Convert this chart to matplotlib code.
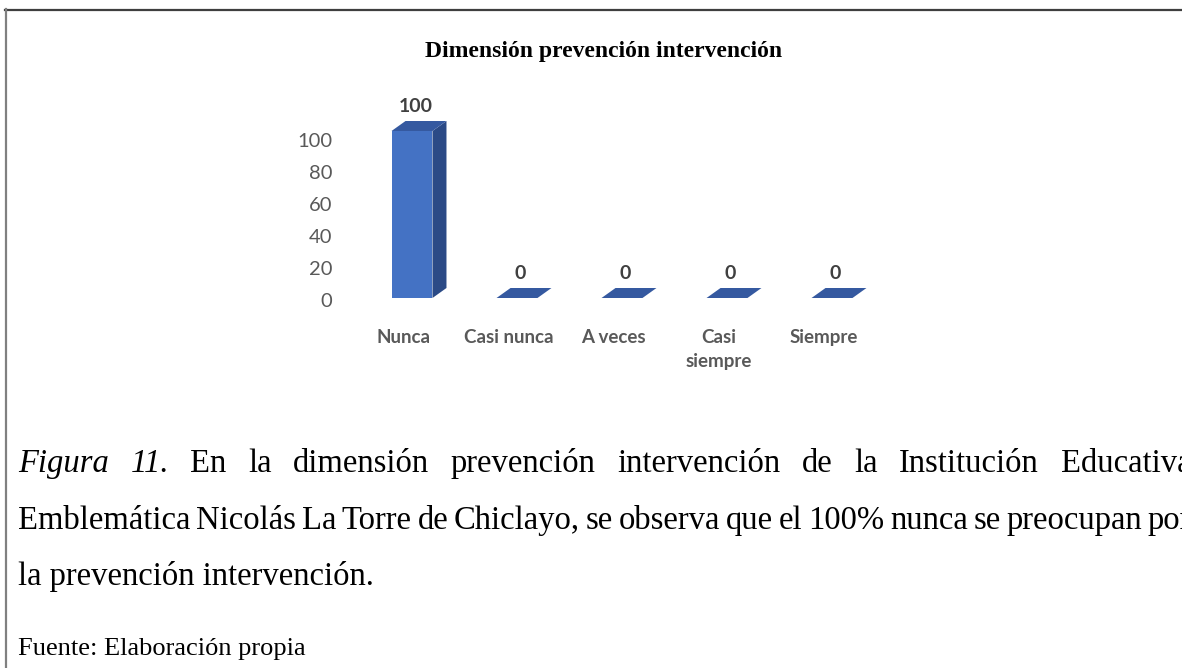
import numpy as np
import matplotlib.pyplot as plt
from matplotlib.patches import Polygon
from matplotlib.lines import Line2D

# chart data
categories = ['Nunca', 'Casi nunca', 'A veces', 'Casi\nsiempre', 'Siempre']
values = [100, 0, 0, 0, 0]
y_ticks = [0, 20, 40, 60, 80, 100]

title = 'Dimensión prevención intervención'
caption_1 = [('Figura', 'italic'), ('11.', 'italic'), ('En', 'normal'), ('la', 'normal'),
             ('dimensión', 'normal'), ('prevención', 'normal'), ('intervención', 'normal'),
             ('de', 'normal'), ('la', 'normal'), ('Institución', 'normal'), ('Educativa', 'normal')]
caption_2 = 'Emblemática Nicolás La Torre de Chiclayo, se observa que el 100% nunca se preocupan por'
caption_3 = 'la prevención intervención.'
source = 'Fuente: Elaboración propia'

FRONT = '#4472C4'
TOP = '#3559A0'
SIDE = '#2B4A86'
GREY = '#595959'
SERIF = 'Liberation Serif'
SANS = 'Lato'

W, H = 1182, 668
fig = plt.figure(figsize=(W / 100, H / 100), dpi=100)


def px_box(left, top, right, bottom):
    return [left / W, 1 - bottom / H, (right - left) / W, (bottom - top) / H]


def fx(x):
    return x / W


def fy(y):
    return 1 - y / H


# frame of the figure box
fig.add_artist(Line2D([fx(5), 1], [fy(9.5), fy(9.5)], color='#3f3f3f', lw=1.6))
fig.add_artist(Line2D([fx(5.5), fx(5.5)], [fy(9), 0], color='#808080', lw=1.6))

# front plane axes (bars)
ax = fig.add_axes(px_box(359.5, 131, 884.5, 298))
ax.set_xlim(-0.5, 4.5)
ax.set_ylim(0, 100)
ax.patch.set_visible(False)
for s in ax.spines.values():
    s.set_visible(False)
ax.set_yticks([])

x = np.arange(len(categories))
bw = 0.39
dx = 14 / 105
dy = 10 / 1.67

ax.bar(x, values, width=bw, color=FRONT, zorder=2)
for xi, v in zip(x, values):
    left, right = xi - bw / 2, xi + bw / 2
    if v > 0:
        ax.add_patch(Polygon([(right, 0), (right + dx, dy), (right + dx, v + dy), (right, v)],
                             closed=True, facecolor=SIDE, edgecolor='none', clip_on=False, zorder=2))
    ax.add_patch(Polygon([(left, v), (right, v), (right + dx, v + dy), (left + dx, v + dy)],
                         closed=True, facecolor=TOP, edgecolor='none', clip_on=False, zorder=3))
    ax.annotate(str(v), (xi + dx / 4, v + dy), xytext=(0, 9), textcoords='offset pixels',
                ha='center', va='baseline', fontsize=14, fontweight='bold', color='#404040',
                family=SANS, annotation_clip=False)

ax.set_xticks(x - 0.08)
ax.set_xticklabels(categories, fontsize=13.5, fontweight='bold', color=GREY, family=SANS,
                   linespacing=1.5)
ax.tick_params(axis='x', length=0, pad=22)

# back wall axes (value ticks)
ax_back = fig.add_axes(px_box(345, 140, 355, 300))
ax_back.set_ylim(0, 100)
ax_back.set_yticks(y_ticks)
ax_back.set_yticklabels([str(t) for t in y_ticks], fontsize=14.5, color=GREY, family=SANS)
ax_back.tick_params(axis='y', length=0, pad=9)
ax_back.set_xticks([])
ax_back.patch.set_visible(False)
for s in ax_back.spines.values():
    s.set_visible(False)

# chart title
fig.text(fx(604), fy(57), title, ha='center', va='baseline', fontsize=17,
         fontweight='bold', family=SERIF, color='black')

# caption
CAP = 23.5
renderer = fig.canvas.get_renderer()


def justify(words, y, x0, x1, size):
    texts = []
    for w, style in words:
        t = fig.text(0, fy(y), w, fontsize=size, family=SERIF, style=style,
                     va='baseline', ha='left', color='black')
        texts.append(t)
    widths = [t.get_window_extent(renderer=renderer).width for t in texts]
    gap = (x1 - x0 - sum(widths)) / (len(texts) - 1)
    pos = x0
    for t, wd in zip(texts, widths):
        t.set_x(fx(pos))
        pos += wd + gap


justify(caption_1, 472, 18, 1191, CAP)
justify([(w, 'normal') for w in caption_2.split(' ')], 529, 18, 1191, CAP)
fig.text(fx(18), fy(585), caption_3, fontsize=CAP, family=SERIF, va='baseline', ha='left')
fig.text(fx(18), fy(655), source, fontsize=19, family=SERIF, va='baseline', ha='left')

fig.savefig('out.png', dpi=100)
